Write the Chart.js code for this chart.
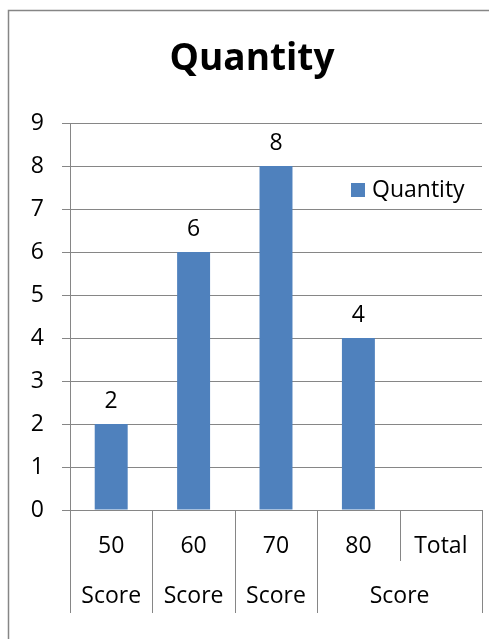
<!DOCTYPE html>
<html><head><meta charset="utf-8">
<script src="https://cdn.jsdelivr.net/npm/chart.js@4.4.0/dist/chart.umd.min.js"></script>
<style>html,body{margin:0;padding:0;background:#fff}#wrap{width:489px;height:639px;position:relative}</style>
</head><body><div id="wrap"><canvas id="c" width="489" height="639"></canvas></div>
<script>
const categories = ['50', '60', '70', '80', 'Total'];
const groupLabels = ['Score', 'Score', 'Score', 'Score'];
const groupSpans = [1, 1, 1, 2];
const quantity = [2, 6, 8, 4, null];
const yTicks = [0, 1, 2, 3, 4, 5, 6, 7, 8, 9];
const seriesName = 'Quantity';
const titleText = 'Quantity';

const FONT = '"Open Sans", Calibri, sans-serif';
const GRID = '#868686';

const deco = {
  id: 'deco',
  beforeDraw(chart) {
    const ctx = chart.ctx;
    ctx.save();
    ctx.fillStyle = '#fff';
    ctx.fillRect(0, 0, chart.width, chart.height);
    ctx.strokeStyle = GRID;
    ctx.lineWidth = 1.5;
    ctx.beginPath();
    ctx.moveTo(8.5, chart.height + 5);
    ctx.lineTo(8.5, 10.5);
    ctx.lineTo(chart.width + 5, 10.5);
    ctx.stroke();
    ctx.restore();
  },
  afterDraw(chart) {
    const ctx = chart.ctx;
    const x = chart.scales.x, y = chart.scales.y;
    const area = chart.chartArea;
    ctx.save();
    // title
    ctx.fillStyle = '#000';
    ctx.font = 'bold 37px ' + FONT;
    ctx.textAlign = 'center';
    ctx.textBaseline = 'alphabetic';
    ctx.fillText(titleText, 252, 70);
    // data labels
    ctx.font = '23px ' + FONT;
    const meta = chart.getDatasetMeta(0);
    meta.data.forEach((bar, i) => {
      const v = chart.data.datasets[0].data[i];
      if (v == null) return;
      ctx.fillText(String(v), bar.x, y.getPixelForValue(v) - 16);
    });
    // first row of category labels
    chart.data.labels.forEach((lab, i) => {
      ctx.fillText(lab, x.getPixelForValue(i), area.bottom + 43);
    });
    // category separators and second row
    const n = categories.length;
    const half = (x.getPixelForValue(1) - x.getPixelForValue(0)) / 2;
    const bounds = [];
    for (let i = 0; i <= n; i++) {
      bounds.push(i < n ? x.getPixelForValue(i) - half : x.getPixelForValue(n - 1) + half);
    }
    const groupEdges = [0];
    groupSpans.reduce((acc, s) => { acc += s; groupEdges.push(acc); return acc; }, 0);
    ctx.strokeStyle = GRID;
    ctx.lineWidth = 1;
    bounds.forEach((bx, i) => {
      const full = groupEdges.includes(i);
      const px = Math.round(bx) + 0.5;
      ctx.beginPath();
      ctx.moveTo(px, area.bottom);
      ctx.lineTo(px, area.bottom + (full ? 103 : 51));
      ctx.stroke();
    });
    ctx.fillStyle = '#000';
    groupLabels.forEach((g, i) => {
      const a = bounds[groupEdges[i]], b = bounds[groupEdges[i + 1]];
      ctx.fillText(g, (a + b) / 2, area.bottom + 93);
    });
    // legend
    ctx.fillStyle = chart.data.datasets[0].backgroundColor;
    ctx.fillRect(351, 183, 14, 14);
    ctx.fillStyle = '#000';
    ctx.textAlign = 'left';
    ctx.fillText(chart.data.datasets[0].label, 372, 197);
    ctx.restore();
  }
};

new Chart(document.getElementById('c'), {
  type: 'bar',
  data: {
    labels: categories,
    datasets: [{
      label: seriesName,
      data: quantity,
      backgroundColor: '#4F81BD',
      barPercentage: 0.4,
      categoryPercentage: 1
    }]
  },
  options: {
    responsive: false,
    animation: false,
    devicePixelRatio: 1,
    layout: { padding: { top: 123, right: 7, left: 0, bottom: 0 } },
    plugins: { legend: { display: false }, title: { display: false }, tooltip: { enabled: false } },
    scales: {
      x: {
        afterFit(s) { s.height = 129; },
        grid: { display: false },
        border: { display: true, color: GRID, width: 1 },
        ticks: { display: false }
      },
      y: {
        min: 0, max: 9,
        afterFit(s) { s.width = 70; },
        afterBuildTicks(s) { s.ticks = yTicks.map(v => ({ value: v })); },
        grid: { color: GRID, lineWidth: 1, tickLength: 8 },
        border: { display: true, color: GRID, width: 1 },
        ticks: { color: '#000', font: { family: FONT, size: 23 }, padding: 18 }
      }
    }
  },
  plugins: [deco]
});
</script></body></html>
